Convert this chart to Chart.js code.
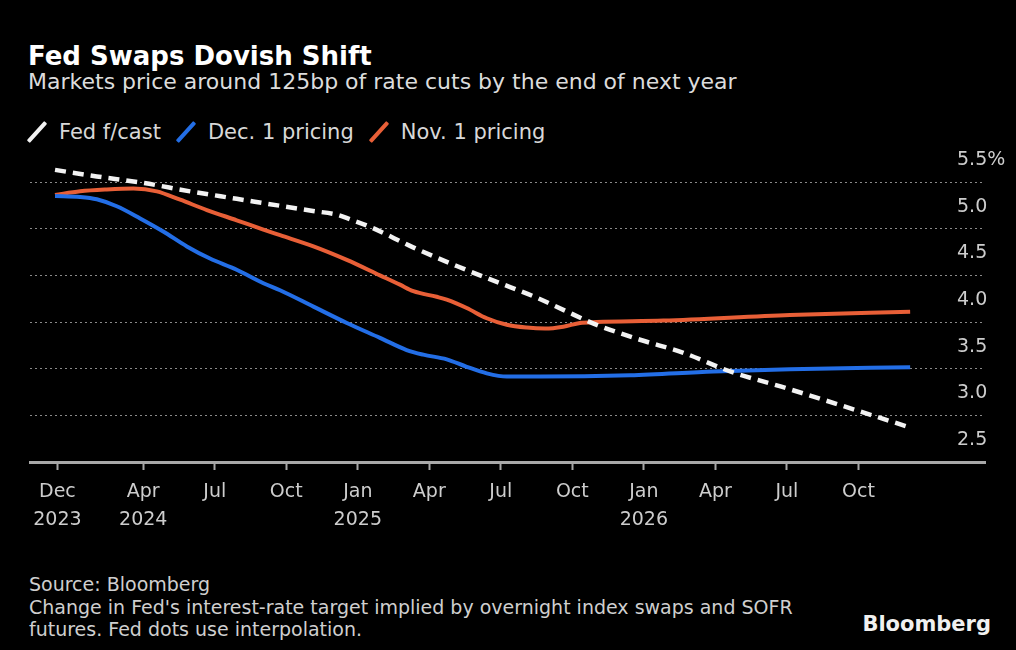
<!DOCTYPE html>
<html>
<head>
<meta charset="utf-8">
<title>Fed Swaps Dovish Shift</title>
<script src="https://cdn.jsdelivr.net/npm/chart.js@4.4.0/dist/chart.umd.min.js"></script>
<style>
  body { margin: 0; background: #000; width: 1016px; height: 650px; overflow: hidden; position: relative;
         font-family: 'DejaVu Sans', sans-serif; color: #d6d6d6; }
  .txt { position: absolute; white-space: nowrap; line-height: 1; }
  #title { left: 28px; top: 43px; font-size: 26px; font-weight: bold; color: #fff; }
  #subtitle { left: 28px; top: 71px; font-size: 22px; color: #dcdcdc; }
  #legend { position: absolute; left: 30px; top: 121px; display: flex; align-items: center; font-size: 21px; line-height: 1; color: #d8d8d8; }
  .item { display: flex; align-items: center; margin-right: 18px; }
  .glyph { width: 14px; height: 22px; position: relative; }
  .glyph i { position: absolute; left: 5px; top: -2px; width: 4px; height: 26px; transform: rotate(42deg); border-radius: 1px; }
  .item span { margin-left: 15px; }
  #chartBox { position: absolute; left: 6px; top: 140px; width: 1004px; height: 410px; }
  .foot { left: 29px; font-size: 19px; color: #cfcfcf; }
  #logo { right: 25px; top: 614px; font-size: 21px; font-weight: bold; color: #f0f0f0; }
</style>
</head>
<body>
<div class="txt" id="title">Fed Swaps Dovish Shift</div>
<div class="txt" id="subtitle">Markets price around 125bp of rate cuts by the end of next year</div>
<div id="legend"></div>
<div id="chartBox"><canvas id="ratesChart"></canvas></div>
<div class="txt foot" style="top:575px">Source: Bloomberg</div>
<div class="txt foot" style="top:598px">Change in Fed's interest-rate target implied by overnight index swaps and SOFR</div>
<div class="txt foot" style="top:620px">futures. Fed dots use interpolation.</div>
<div class="txt" id="logo">Bloomberg</div>

<script>
// x values = months since 1 Dec 2023
const fedMonths = [0.30, 2.05, 4.01, 5.96, 7.92, 9.87, 11.12, 12.12, 12.68, 13.51, 15.32, 17.15, 18.83, 20.51, 21.62, 23.02, 24.84, 26.66, 28.62, 30.99, 36.17];
const fedValues = [5.63, 5.56, 5.49, 5.40, 5.32, 5.24, 5.19, 5.15, 5.10, 5.02, 4.80, 4.60, 4.43, 4.26, 4.13, 3.97, 3.81, 3.67, 3.47, 3.29, 2.87];

const decMonths = [0.30, 1.35, 2.05, 2.89, 3.87, 4.84, 5.83, 6.80, 7.92, 9.04, 9.74, 11.14, 12.54, 13.93, 15.05, 15.75, 16.73, 17.57, 18.41, 19.25, 20.65, 24.42, 27.92, 31.13, 36.17];
const decValues = [5.35, 5.34, 5.315, 5.24, 5.11, 4.97, 4.81, 4.68, 4.56, 4.415, 4.34, 4.165, 3.99, 3.83, 3.70, 3.65, 3.60, 3.52, 3.45, 3.415, 3.415, 3.43, 3.47, 3.495, 3.516];

const novMonths = [0.30, 1.35, 2.47, 3.59, 4.57, 5.55, 6.67, 7.92, 9.04, 9.74, 11.14, 12.54, 13.93, 14.77, 15.33, 16.31, 16.73, 17.57, 18.41, 19.25, 20.09, 20.86, 21.62, 22.32, 23.02, 25.82, 31.13, 36.17];
const novValues = [5.36, 5.40, 5.42, 5.43, 5.40, 5.31, 5.20, 5.09, 4.99, 4.93, 4.81, 4.665, 4.50, 4.40, 4.33, 4.27, 4.24, 4.15, 4.04, 3.97, 3.94, 3.93, 3.95, 3.99, 4.00, 4.015, 4.076, 4.11];

const tickMonths = [0.4, 4, 7, 10, 13, 16, 19, 22, 25, 28, 31, 34];
const tickLabels = [['Dec', '2023'], ['Apr', '2024'], 'Jul', 'Oct', ['Jan', '2025'], 'Apr', 'Jul', 'Oct', ['Jan', '2026'], 'Apr', 'Jul', 'Oct'];
const yTicks = [2.5, 3.0, 3.5, 4.0, 4.5, 5.0, 5.5];

function points(xs, ys) {
    return xs.map((x, i) => ({ x: x, y: ys[i] }));
}

const ctx = document.getElementById('ratesChart').getContext('2d');
const ratesChart = new Chart(ctx, {
    type: 'line',
    data: {
        datasets: [{
            label: 'Fed f/cast',
            data: points(fedMonths, fedValues),
            borderColor: '#f2f2f2',
            borderWidth: 4.5,
            borderDash: [11, 7],
            cubicInterpolationMode: 'monotone',
            pointRadius: 0
        }, {
            label: 'Dec. 1 pricing',
            data: points(decMonths, decValues),
            borderColor: '#236ee6',
            borderWidth: 4,
            cubicInterpolationMode: 'monotone',
            pointRadius: 0
        }, {
            label: 'Nov. 1 pricing',
            data: points(novMonths, novValues),
            borderColor: '#e85f37',
            borderWidth: 4,
            cubicInterpolationMode: 'monotone',
            pointRadius: 0
        }]
    },
    options: {
        responsive: true,
        maintainAspectRatio: false,
        animation: false,
        layout: { padding: { left: 24, right: 0, top: 10, bottom: 8 } },
        plugins: {
            legend: { display: false },
            tooltip: { enabled: false }
        },
        scales: {
            x: {
                type: 'linear',
                min: -0.75,
                max: 39.31,
                afterBuildTicks: s => { s.ticks = tickMonths.map(v => ({ value: v })); },
                afterFit: s => { s.height = 80; s.paddingLeft = 0; s.paddingRight = 0; },
                grid: { drawOnChartArea: false, drawTicks: true, tickLength: 8, tickColor: '#a8a8a8', tickWidth: 2 },
                border: { display: true, color: '#a8a8a8', width: 3 },
                ticks: {
                    autoSkip: false,
                    maxRotation: 0,
                    padding: 8,
                    color: '#cdcdcd',
                    font: { family: 'DejaVu Sans', size: 19, lineHeight: 1.47 },
                    callback: (value, index) => tickLabels[index]
                }
            },
            y: {
                position: 'right',
                min: 2.5,
                max: 5.843,
                afterBuildTicks: s => { s.ticks = yTicks.map(v => ({ value: v })); },
                afterFit: s => {
                    s.width = 25; s.paddingTop = 0; s.paddingBottom = 0;
                    // labels sit over the right end of the grid, so don't clip them to the axis box
                    s._computeLabelArea = () => undefined;
                },
                grid: { color: '#8a8a8a', lineWidth: 1, drawTicks: false },
                border: { display: false, dash: [2, 3] },
                ticks: {
                    padding: -28,
                    labelOffset: -22,
                    color: '#cdcdcd',
                    font: { family: 'DejaVu Sans', size: 19 },
                    callback: v => v === 5.5 ? '5.5%' : v.toFixed(1)
                }
            }
        }
    }
});

// legend from the chart's own datasets
const legendDiv = document.getElementById('legend');
ratesChart.data.datasets.forEach(ds => {
    const item = document.createElement('div');
    item.className = 'item';
    item.innerHTML = '<div class="glyph"><i style="background:' + ds.borderColor + '"></i></div><span>' + ds.label + '</span>';
    legendDiv.appendChild(item);
});
</script>
</body>
</html>
